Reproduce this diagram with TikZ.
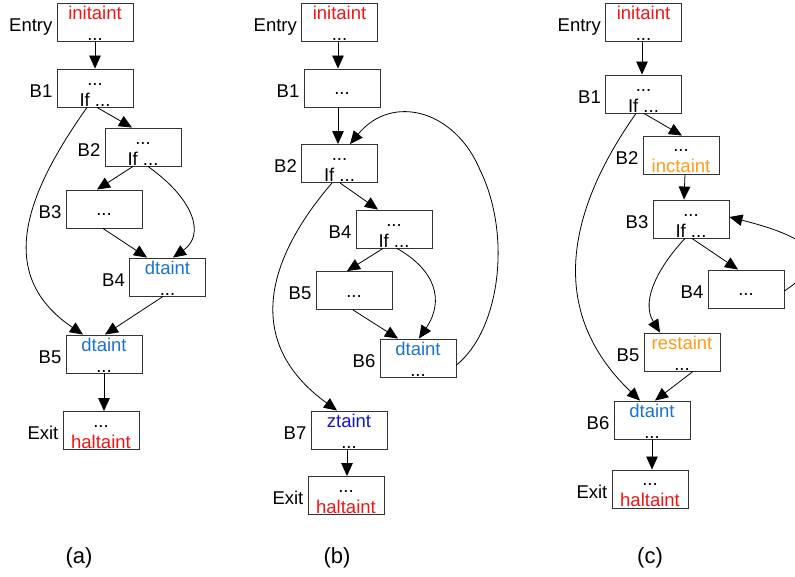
\documentclass[tikz,border=0pt]{standalone}
\usepackage{fontspec}
\setmainfont{Liberation Sans}
\usetikzlibrary{arrows.meta}
\definecolor{taintred}{RGB}{240,20,20}
\definecolor{taintblue}{RGB}{25,115,210}
\definecolor{taintnavy}{RGB}{20,20,200}
\definecolor{taintorange}{RGB}{255,155,25}
\newcommand{\twolines}[2]{\rule{0pt}{15pt}#1\\#2}

\begin{document}
\begin{tikzpicture}[x=1pt,y=-1pt,>={Triangle[length=13pt,width=11.5pt]},
  every node/.style={font=\fontsize{18.5}{21}\selectfont},
  blk/.style={draw=black!80,line width=0.9pt,minimum width=76pt,minimum height=38pt,inner sep=0pt,align=center},
  one/.style={blk,text height=13pt,text depth=0pt},
  tag/.style={anchor=base east,inner sep=0pt},
  edge/.style={->,line width=0.8pt}]
\useasboundingbox (0,0) rectangle (795,576);

% graph (a)
\node[blk] (aEn) at (95,22) {\twolines{\textcolor{taintred}{initaint}}{...}};
\node[blk] (aB1) at (95,88) {\twolines{...}{If ...}};
\node[blk] (aB2) at (143,147) {\twolines{...}{If ...}};
\node[one] (aB3) at (104,209) {...};
\node[blk] (aB4) at (167.5,277) {\twolines{\textcolor{taintblue}{dtaint}}{...}};
\node[blk] (aB5) at (104,354) {\twolines{\textcolor{taintblue}{dtaint}}{...}};
\node[blk] (aEx) at (101,430.5) {\twolines{...}{\textcolor{taintred}{haltaint}}};
\draw[edge] (aEn.south) -- (aB1.north);
\draw[edge] ([shift={(2,0)}]aB1.south) -- ([shift={(-11,0)}]aB2.north);
\draw[edge] ([shift={(-10,0)}]aB2.south) -- ([shift={(-7,0)}]aB3.north);
\draw[edge] ([shift={(5,0)}]aB2.south) .. controls (195,200) and (205,235) .. ([shift={(5.5,0)}]aB4.north);
\draw[edge] ([shift={(-1,0)}]aB3.south) -- ([shift={(-20.5,0)}]aB4.north);
\draw[edge] ([shift={(-8,0)}]aB1.south) .. controls (25,195) and (-5,275) .. ([shift={(-21,0)}]aB5.north);
\draw[edge] ([shift={(-4.5,0)}]aB4.south) -- ([shift={(1,0)}]aB5.north);
\draw[edge] (aB5.south) -- (aB5.south |- aEx.north);

% graph (b)
\node[blk] (bEn) at (339.5,22) {\twolines{\textcolor{taintred}{initaint}}{...}};
\node[one] (bB1) at (342,88) {...};
\node[blk] (bB2) at (339.5,163.5) {\twolines{...}{If ...}};
\node[blk] (bB4) at (394,229) {\twolines{...}{If ...}};
\node[one] (bB5) at (354,290.5) {...};
\node[blk] (bB6) at (418,358) {\twolines{\textcolor{taintblue}{dtaint}}{...}};
\node[blk] (bB7) at (349,430) {\twolines{\textcolor{taintnavy}{ztaint}}{...}};
\node[blk] (bEx) at (346,495.5) {\twolines{...}{\textcolor{taintred}{haltaint}}};
\draw[edge] ([shift={(-1.5,0)}]bEn.south) -- ([shift={(-1.5,0)}]bEn.south |- bB1.north);
\draw[edge] ([shift={(-4,0)}]bB1.south) -- ([shift={(-4,0)}]bB1.south |- bB2.north);
\draw[edge] ([shift={(0.5,0)}]bB2.south) -- ([shift={(-16,0)}]bB4.north);
\draw[edge] ([shift={(-11,0)}]bB4.south) -- ([shift={(-7,0)}]bB5.north);
\draw[edge] ([shift={(3,0)}]bB4.south) .. controls (435,270) and (445,300) .. ([shift={(1,0)}]bB6.north);
\draw[edge] ([shift={(-1,0)}]bB5.south) -- ([shift={(-20,0)}]bB6.north);
\draw[edge] ([shift={(0,7)}]bB6.east) .. controls (500,330) and (512,235) .. (480,170)
  .. controls (455,110) and (392,93) .. ([shift={(10.5,0)}]bB2.north);
\draw[edge] ([shift={(-7.5,0)}]bB2.south) .. controls (270,255) and (240,340) .. ([shift={(-12,0)}]bB7.north);
\draw[edge] ([shift={(-2,0)}]bB7.south) -- ([shift={(-2,0)}]bB7.south |- bEx.north);

% graph (c)
\node[blk] (cEn) at (643.5,22) {\twolines{\textcolor{taintred}{initaint}}{...}};
\node[blk] (cB1) at (643.5,94) {\twolines{...}{If ...}};
\node[blk] (cB2) at (681,155) {\twolines{...}{\textcolor{taintorange}{inctaint}}};
\node[blk] (cB3) at (691,219) {\twolines{...}{If ...}};
\node[one] (cB4) at (746,289) {...};
\node[blk] (cB5) at (682,352) {\twolines{\textcolor{taintorange}{restaint}}{...}};
\node[blk] (cB6) at (652,420) {\twolines{\textcolor{taintblue}{dtaint}}{...}};
\node[blk] (cEx) at (650,489) {\twolines{...}{\textcolor{taintred}{haltaint}}};
\draw[edge] ([shift={(-1.5,0)}]cEn.south) -- ([shift={(-1.5,0)}]cEn.south |- cB1.north);
\draw[edge] ([shift={(0.5,0)}]cB1.south) -- ([shift={(1,0)}]cB2.north);
\draw[edge] ([shift={(4,0)}]cB2.south) -- ([shift={(-7,0)}]cB3.north);
\draw[edge] ([shift={(1,0)}]cB3.south) -- ([shift={(-8,0)}]cB4.north);
\draw[edge] ([shift={(-6,0)}]cB3.south) .. controls (660,265) and (640,300) .. ([shift={(-22,0)}]cB5.north);
\draw[edge] ([shift={(11,0)}]cB5.south) -- ([shift={(3,0)}]cB6.north);
\draw[edge] ([shift={(-7.5,0)}]cB1.south) .. controls (575,200) and (540,305) .. ([shift={(-12,0)}]cB6.north);
\draw[edge] (cB6.south) -- (cB6.south |- cEx.north);
\draw[edge] ([shift={(0,2)}]cB4.east) .. controls (830,260) and (820,240) .. ([shift={(0,-2)}]cB3.east);

% block names
\foreach \blk/\name in {aEn/Entry,aB1/B1,aB2/B2,aB3/B3,aB4/B4,aB5/B5,aEx/Exit,
  bEn/Entry,bB1/B1,bB2/B2,bB4/B4,bB5/B5,bB6/B6,bB7/B7,bEx/Exit,
  cEn/Entry,cB1/B1,cB2/B2,cB3/B3,cB4/B4,cB5/B5,cB6/B6,cEx/Exit}
  \node[tag] at ([shift={(-4,9)}]\blk.west) {\name};

% captions
\node[font=\fontsize{22}{26}\selectfont] (capA) at (79,558) {(a)};
\node[font=\fontsize{22}{26}\selectfont] (capB) at (337,558) {(b)};
\node[font=\fontsize{22}{26}\selectfont] (capC) at (650,558) {(c)};
\end{tikzpicture}
\end{document}
